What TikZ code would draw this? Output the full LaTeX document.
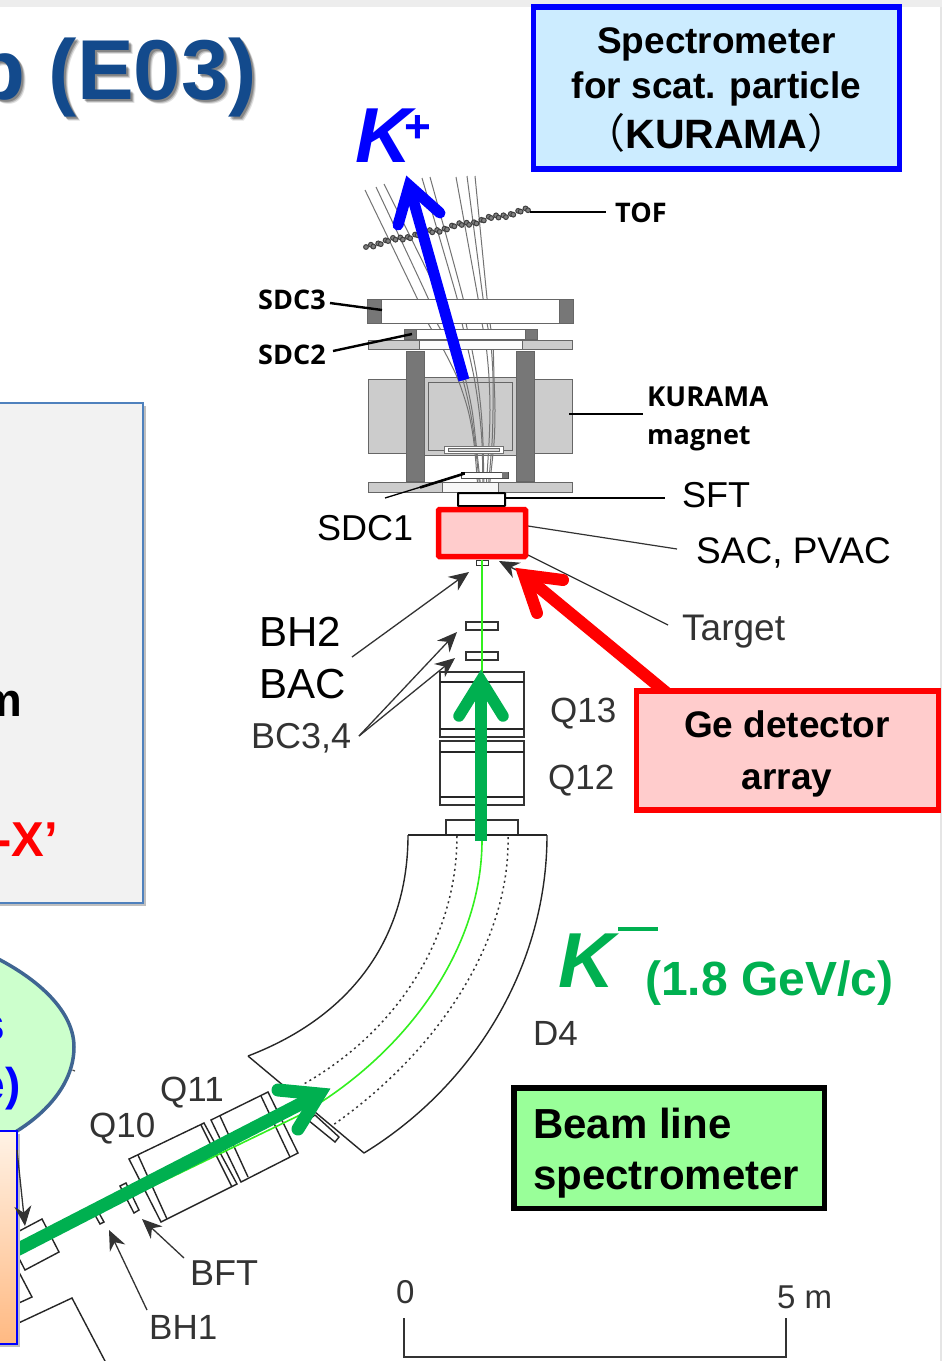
\documentclass[tikz,border=0pt]{standalone}
\usepackage{fontspec}
\setmainfont{Liberation Sans}
\newfontfamily\cjkf{Noto Sans CJK SC}
\newfontfamily\opensf{Open Sans}
\newcommand\fsz[1]{\fontsize{#1}{1.2\dimexpr #1pt\relax}\selectfont}
\newcommand\fszl[2]{\fontsize{#1}{#2}\selectfont}
\definecolor{titleblue}{HTML}{134A8C}
\definecolor{kgreen}{HTML}{00B050}
\definecolor{tx}{HTML}{333333}
\definecolor{boxedge}{HTML}{4F81BD}
\definecolor{bubbleedge}{HTML}{3F6592}
\definecolor{pinkf}{HTML}{FFCCCC}
\definecolor{skyf}{HTML}{CCECFF}
\definecolor{limef}{HTML}{99FF99}
\definecolor{mint}{HTML}{CCFFCC}
\definecolor{steel}{HTML}{777777}
\definecolor{lightsteel}{HTML}{CCCCCC}
\definecolor{beamg}{RGB}{50,240,30}
\usetikzlibrary{arrows.meta}
\tikzset{
  lbl/.style={inner sep=0pt,anchor=base west,text=tx,font=\fsz{35}},
  lblk/.style={inner sep=0pt,anchor=base west,text=black,font=\fsz{36}},
  lbold/.style={inner sep=0pt,anchor=base west,text=black,font=\opensf\bfseries\fsz{27}},
  part/.style={draw=tx,line width=1.4pt,fill=white},
  plain/.style={draw=black!85,line width=1.4pt},
  mach/.style={draw=black!60,line width=1pt},
  track/.style={draw=black!55,line width=1pt},
  lead/.style={draw=black,line width=2.4pt},
  thinl/.style={draw=tx,line width=1.2pt},
  leadtip/.style={draw=tx,line width=1.3pt,-{Stealth[length=20pt,width=17pt]}},
  thick arrow/.style={line width=#1,line cap=round,line join=miter,miter limit=20},
  dot line/.style={draw=tx,line width=1.5pt,dash pattern=on 2pt off 3.5pt},
}
\begin{document}
\begin{tikzpicture}[x=1pt,y=-1pt]
\useasboundingbox (0,0) rectangle (942,1361);
\clip (0,0) rectangle (942,1361);
\fill[white] (0,0) rectangle (942,1361);
\fill[black!7] (0,0) rectangle (942,6.5);
\fill[black!10] (940,6.5) rectangle (942,1361);
% title
\foreach \o/\c in {4/0.12,3/0.2,2/0.25}{
  \node[inner sep=0pt,anchor=base east,text=black,opacity=\c,font=\bfseries\fsz{85}] at (257+\o,99.5+\o) {p (E03)};
}
\node[inner sep=0pt,anchor=base east,text=titleblue,font=\bfseries\fsz{85}] (title) at (257,99.5) {p (E03)};
% grey panel
\fill[black!25] (-10,406) rectangle (146,906);
\path[fill=black!5,draw=boxedge,line width=1.3pt] (-10,403) rectangle (143,903);
\node[inner sep=0pt,anchor=base east,text=black,font=\bfseries\fsz{47}] (panelm) at (22,716) {m};
\node[inner sep=0pt,anchor=base east,text=red,font=\bfseries\fsz{49}] (panelx) at (58,856) {-X’};
% bubble
\path[fill=mint,draw=bubbleedge,line width=3.5pt] (-30,946) .. controls (25,968) and (74,1005) .. (74,1047) .. controls (74,1082) and (48,1113) .. (12,1134) -- (-30,1134) -- cycle;
\draw[black!70,line width=1.2pt] (72.5,1070) -- (75,1071);
\node[inner sep=0pt,anchor=base east,text=blue,font=\bfseries\fsz{46}] (bubs) at (5,1040) {s};
\node[inner sep=0pt,anchor=base east,text=blue,font=\bfseries\fsz{46}] (bube) at (21,1100) {e)};
% spectrometer front part
\path[mach,fill=lightsteel] (424,377) rectangle (516,455);
\path[mach,fill=lightsteel] (428,382) rectangle (512,450);
\path[mach,fill=lightsteel] (368,379) rectangle (406,453);
\path[mach,fill=lightsteel] (534,379) rectangle (572,453);
\path[mach,fill=steel] (406,351) rectangle (424,481);
\path[mach,fill=steel] (516,351) rectangle (534,481);
% tracks
\draw[track] plot[smooth] coordinates {(365,190) (417,298) (428,323) (441,345) (457,377) (468,410) (474,443) (478,490)};
\draw[track] plot[smooth] coordinates {(376,187) (428,298) (437,323) (450,345) (462,377) (470,410) (475,443) (480,490)};
\draw[track] plot[smooth] coordinates {(384,184) (440,298) (444,323) (455,345) (465,377) (472,410) (476,443) (481,490)};
\draw[track] plot[smooth] coordinates {(422,178) (457,298) (462,323) (467,345) (474,377) (479,410) (482,443) (483,490)};
\draw[track] plot[smooth] coordinates {(430,177) (463,298) (466,323) (471,345) (477,377) (481,410) (483,443) (484,490)};
\draw[track] plot[smooth] coordinates {(456,177) (478,298) (482,323) (486,345) (489,377) (490,410) (489,443) (486,490)};
\draw[track] plot[smooth] coordinates {(467,176) (483,298) (487,323) (491,345) (493,377) (493,410) (492,443) (488,490)};
\draw[track] plot[smooth] coordinates {(475,176) (487,298) (490,323) (493,345) (494,377) (495,410) (494,443) (489,490)};
% TOF chain
\foreach \t in {0,...,44}{
  \pgfmathsetmacro\px{366+162*\t/44+1.2*mod(\t,2)}
  \pgfmathsetmacro\py{247-36*\t/44-2.2*mod(\t,2)+1.2*sin(\t*40)}
  \draw[draw=black!75,fill=black!50,line width=1pt] (\px,\py) circle (2.4pt);
}
% detectors
\path[mach,fill=white] (367,299) rectangle (573,323);
\path[mach,fill=steel] (367,299) rectangle (381,323);
\path[mach,fill=steel] (559,299) rectangle (573,323);
\path[mach,fill=white] (404,329) rectangle (537,339);
\path[mach,fill=steel] (404,329) rectangle (416,339);
\path[mach,fill=steel] (525,329) rectangle (537,339);
\path[mach,fill=lightsteel] (368,340) rectangle (572,349);
\path[mach,fill=white,fill opacity=.9] (419,340) rectangle (522,349);
\path[draw=black!55,line width=1pt,fill=white] (444,446) rectangle (503,453);
\path[draw=black!60,line width=1pt,fill=black!15] (448,448) rectangle (499,451);
\path[draw=black!70,line width=1pt,fill=white] (461,472) rectangle (508,478);
\path[fill=steel] (502,472) rectangle (508,478);
\path[fill=black] (461,472) rectangle (465,475);
\path[mach,fill=lightsteel] (368,482) rectangle (572,492);
\path[mach,fill=white,fill opacity=.85] (442,482) rectangle (498,492);
\path[draw=black,line width=2pt,fill=white,rounded corners=.5pt] (458,493) rectangle (505,506);
% sft line
\coordinate (sftend) at (505,498);
\node[lblk] (sft) at (682,507) {SFT};
\draw[black,line width=1.3pt] (sftend) -- (665,498);
% top labels
\node[lbold] (tof) at (615,222) {TOF};
\coordinate (tofa) at (530,212); \coordinate (tofb) at (606,212);
\draw[lead] (tofa) -- (tofb);
\node[lbold] (sdc3) at (258,309) {SDC3};
\coordinate (s3a) at (330,303); \coordinate (s3b) at (382,310);
\draw[lead] (s3a) -- (s3b);
\node[lbold] (sdc2) at (258,364) {SDC2};
\coordinate (s2a) at (333,351); \coordinate (s2b) at (412,334);
\draw[lead] (s2a) -- (s2b);
\node[lbold,font=\opensf\bfseries\fsz{27.5}] (kurama) at (647,406) {KURAMA};
\node[lbold] (magnet) at (647,444) {magnet};
\coordinate (ka) at (569,414); \coordinate (kb) at (643,414);
\draw[lead] (ka) -- (kb);
\node[lblk] (sdc1) at (317,540) {SDC1};
\coordinate (s1a) at (385,498); \coordinate (s1b) at (463,474);
\draw[black,line width=1.3pt] (s1a) -- (s1b);
\draw[black,line width=2.6pt] (420,487.5) -- (s1b);
% beam elements upstream of target
\draw[part,line width=1pt] (476,560) rectangle (488,565);
\draw[part] (466,622) rectangle (498,630);
\draw[part] (466,652) rectangle (498,660);
\draw[part] (440,672) rectangle (524,737);
\draw[plain] (440,682) -- (524,682) (440,729) -- (524,729);
\draw[part] (440,741) rectangle (524,805);
\draw[plain] (440,752) -- (524,752) (440,797) -- (524,797);
\draw[part] (446,820) rectangle (518,835);
% D4
\draw[plain] (408,835) .. controls (408,935) and (355,1015) .. (248,1056);
\draw[plain] (547,835) .. controls (547,965) and (475,1085) .. (364,1153);
\draw[plain] (408,835) -- (547,835);
\draw[plain] (248,1056) -- (364,1153);
\draw[dot line] (457,836) .. controls (457,935) and (400,1030) .. (302,1085);
\draw[dot line] (508,837) .. controls (510,940) and (440,1050) .. (333,1125);
\draw[plain,fill=white] (315,1115) -- (339,1137) -- (335,1142) -- (308,1120) -- cycle;
% Q10 Q11 etc
\draw[plain,fill=white] (129,1159) -- (204,1123) -- (237,1184) -- (161,1222) -- cycle;
\draw[plain] (138,1155) -- (167,1219) (201,1125) -- (232,1187);
\draw[plain,fill=white] (211,1120) -- (268,1092) -- (298,1153) -- (241,1182) -- cycle;
\draw[plain] (220,1116) -- (248,1177) (261,1096) -- (290,1157);
\draw[plain,fill=white] (95,1215) -- (99,1213) -- (104,1222) -- (100,1224) -- cycle;
\draw[plain,fill=white] (120,1186) -- (126,1183) -- (139,1210) -- (134,1213) -- cycle;
\draw[plain,fill=white] (42,1219) -- (59,1252) -- (25,1270) -- (8,1237) -- cycle;
\draw[plain] (10,1255) -- (32,1297) -- (10,1307);
\draw[plain] (10,1327) -- (72,1298) -- (105,1361);
% green beam
\draw[draw=beamg,line width=1.6pt] (482,560) -- (482,840) .. controls (482,950) and (405,1055) .. (300,1115) -- (0,1260);
% thin label arrows
\node[lblk,font=\fsz{42}] (bh2) at (259,646) {BH2};
\node[lblk,font=\fsz{42}] (bac) at (259,698) {BAC};
\node[lbl,font=\fsz{36}] (bc34) at (251,748) {BC3,4};
\coordinate (bh2a) at (352,657); \coordinate (bh2b) at (469,572);
\draw[leadtip] (bh2a) -- (bh2b);
\coordinate (bca) at (359,736); \coordinate (bcb) at (457,632); \coordinate (bcc) at (455,658);
\draw[leadtip] (bca) -- (bcb);
\draw[leadtip] (bca) -- (bcc);
\node[lblk,font=\fsz{37}] (sac) at (696,563) {SAC, PVAC};
\coordinate (saca) at (528,526); \coordinate (sacb) at (677,549);
\draw[thinl] (saca) -- (sacb);
\node[lbl,font=\fsz{37}] (target) at (682,640) {Target};
\coordinate (ta) at (528,555); \coordinate (tb) at (668,625);
\draw[thinl] (ta) -- (tb);
\coordinate (tc) at (524,574); \coordinate (td) at (499,561);
\draw[leadtip] (tc) -- (td);
\node[lbl] (q13) at (550,722) {Q13};
\node[lbl] (q12) at (548,789) {Q12};
\node[lbl] (d4) at (533,1045) {D4};
\node[lbl] (q11) at (160,1101) {Q11};
\node[lbl] (q10) at (89,1137) {Q10};
\node[lbl,font=\fsz{36}] (bft) at (190,1285) {BFT};
\node[lbl,font=\fsz{35}] (bh1) at (149,1339) {BH1};
\coordinate (bfta) at (184,1258); \coordinate (bftb) at (142,1219);
\draw[leadtip] (bfta) -- (bftb);
\coordinate (bh1a) at (147,1310); \coordinate (bh1b) at (109,1230);
\draw[leadtip] (bh1a) -- (bh1b);
% scale
\node[lbl,font=\fsz{33}] (zero) at (396,1303) {0};
\node[lbl,font=\fsz{33}] (five) at (777,1308) {5 m};
\draw[draw=tx,line width=1.1pt] (404,1318) -- (404,1357) -- (786,1357) -- (786,1318);
% KURAMA box
\node[draw=blue,line width=5.5pt,fill=skyf,minimum width=366pt,minimum height=162pt,inner sep=0pt] (kbox) at (716.5,88) {};
\node[inner sep=0pt,align=center,font={\bfseries\fszl{37}{45}}] (ktext) at (716.5,90) {Spectrometer\\ for scat. particle\\[5pt] \fszl{41}{49}{\cjkf\mdseries （}KURAMA{\cjkf\mdseries ）}};
% K+ labels
\node[inner sep=0pt,anchor=base west,text=blue,font=\bfseries\itshape\fsz{78}] (kp) at (355,162) {K};
\node[inner sep=0pt,anchor=base west,text=blue,font=\bfseries\fsz{46}] (kpp) at (404,142) {+};
\node[inner sep=0pt,anchor=base west,text=kgreen,font=\bfseries\itshape\fsz{78}] (km) at (558,987) {K};
\fill[kgreen] (618,927) rectangle (658,931);
\node[inner sep=0pt,anchor=base west,text=kgreen,font=\bfseries\fsz{48}] (gev) at (645,995) {(1.8 GeV/c)};
% thick arrows
\coordinate (bluea) at (464,380); \coordinate (blueb) at (409.2,185.5);
\draw[blue,line width=11pt] (bluea) -- (411,192);
\draw[blue,thick arrow=11pt] (398,225) -- (blueb) -- (440,213);
\coordinate (reda) at (668,694); \coordinate (redb) at (524,575);
\draw[red,line width=12pt] (reda) -- (530,580);
\draw[red,thick arrow=12pt] (563,580) -- (redb) -- (537,613);
\coordinate (grna) at (481,841); \coordinate (grnb) at (481,680.5);
\draw[kgreen,line width=11.5pt] (grna) -- (481,688);
\draw[kgreen,thick arrow=11.5pt] (459,716) -- (grnb) -- (503,716);
\coordinate (grca) at (5,1256); \coordinate (grcb) at (319.5,1094);
\draw[kgreen,line width=13pt] (grca) -- (313,1097.5);
\draw[kgreen,thick arrow=13pt] (278,1090) -- (grcb) -- (298,1129);
% orange box
\fill[black!25] (-10,1134) rectangle (20,1347);
\path[top color=orange!10!white,bottom color={rgb,255:red,255;green,185;blue,130}] (-10,1131) rectangle (17,1344);
\draw[blue,line width=1.3pt] (-10,1131) rectangle (17,1344);
\coordinate (ora) at (17,1150); \coordinate (orb) at (25,1226);
\draw[leadtip] (ora) -- (orb);
% Ge box
\node[draw=red,line width=5.5pt,fill=pinkf,minimum width=302pt,minimum height=119pt,inner sep=0pt] (gebox) at (787.5,750.5) {};
\node[inner sep=0pt,align=center,font={\bfseries\fszl{37}{52}}] (getext) at (787,754) {Ge detector\\ array};
% Beam line box
\node[draw=black,line width=5.5pt,fill=limef,minimum width=310.5pt,minimum height=120.5pt,inner sep=0pt] (blbox) at (669,1148) {};
\node[inner sep=0pt,anchor=base west,text=black,font=\bfseries\fsz{42}] (bl1) at (533,1138) {Beam line};
\node[inner sep=0pt,anchor=base west,text=black,font=\bfseries\fsz{42}] (bl2) at (533,1189) {spectrometer};
% red box
\node[draw=red,line width=5.5pt,fill=pinkf,minimum width=87pt,minimum height=47pt,inner sep=0pt,rounded corners=1pt] (rbox) at (482,533) {};
\end{tikzpicture}
\end{document}
